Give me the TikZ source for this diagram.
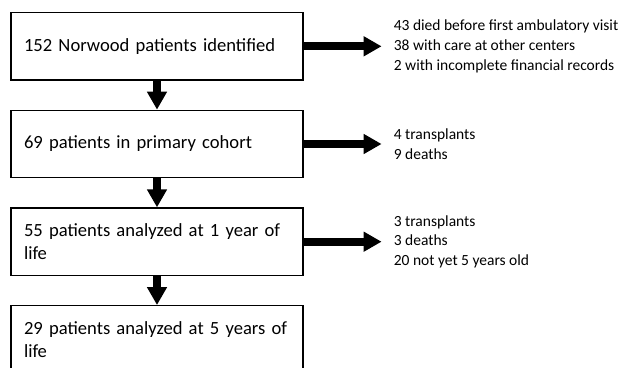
\documentclass[tikz,border=0pt]{standalone}
\usepackage{fontspec}
\setmainfont{Carlito}
\usetikzlibrary{arrows.meta,positioning}
\tikzset{
  stage/.style={rectangle, draw=black, line width=1.2pt, minimum width=292pt, minimum height=67.5pt, text width=266pt, inner xsep=13pt, align=left, font=\fontsize{18.6}{23.4}\selectfont},
  excl/.style={inner xsep=12pt, inner ysep=0pt, align=left, font=\fontsize{15.5}{19.8}\selectfont},
  fatarrow/.style={-{Triangle[length=18pt,width=19pt]}, line width=8pt}
}

\begin{document}
\begin{tikzpicture}[node distance=29pt]
  \useasboundingbox (0,0) rectangle (634pt,-367pt);
  \node[stage] (identified) at (157pt,-46.3pt) {152 Norwood patients identified};
  \node[stage, below=of identified] (cohort) {69 patients in primary cohort};
  \node[stage, below=of cohort] (oneyear) {55 patients analyzed at 1 year of\\life};
  \node[stage, below=of oneyear] (fiveyear) {29 patients analyzed at 5 years of\\life};
  \node[excl, right=78pt of identified] (lost) {43 died before first ambulatory visit\\38 with care at other centers\\2 with incomplete financial records};
  \node[excl, right=78pt of cohort] (cohortout) {4 transplants\\9 deaths};
  \node[excl, right=78pt of oneyear] (oneyearout) {3 transplants\\3 deaths\\20 not yet 5 years old};
  \draw[fatarrow] (identified) -- (cohort);
  \draw[fatarrow] (cohort) -- (oneyear);
  \draw[fatarrow] (oneyear) -- (fiveyear);
  \draw[fatarrow] (identified) -- (lost);
  \draw[fatarrow] (cohort) -- (cohortout);
  \draw[fatarrow] (oneyear) -- (oneyearout);
\end{tikzpicture}
\end{document}
